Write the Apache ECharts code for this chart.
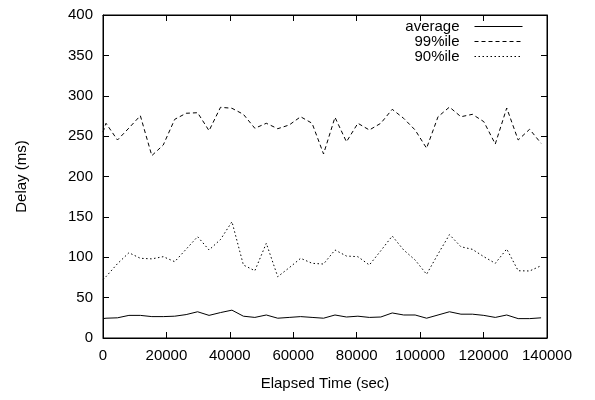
<!DOCTYPE html>
<html>
<head>
<meta charset="utf-8">
<script src="https://cdn.jsdelivr.net/npm/echarts@6/dist/echarts.min.js"></script>
<style>html,body{margin:0;padding:0;background:#fff;}#c{width:595px;height:400px;}</style>
</head>
<body>
<div id="c"></div>
<script>
// Elapsed time (sec) of each sample
var times = [0, 950, 4560, 8170, 11780, 15390, 19000, 22610, 26220, 29830, 33440, 37050, 40660, 44270, 47880, 51490, 55100, 58710, 62320, 65930, 69540, 73150, 76760, 80370, 83980, 87590, 91200, 94810, 98420, 102030, 105640, 109250, 112860, 116470, 120080, 123690, 127300, 130910, 134520, 138130];
var average = [24, 24.5, 25, 28, 28, 26.5, 26.5, 27, 29, 32.5, 28, 31.5, 34.5, 27, 25.5, 28.5, 24.5, 25.5, 26.5, 25.5, 24.5, 28.5, 26, 27, 25.5, 26, 31, 28.5, 28.5, 24.5, 28.5, 32.5, 29.5, 29.5, 28, 25.5, 28.5, 24, 24, 25];
var p99 = [255, 265.9, 245.2, 260, 275.3, 225.8, 239, 270.8, 278.3, 279, 256.7, 285.7, 284.5, 277, 259.7, 265.9, 259.2, 263.8, 274, 265.9, 227.9, 273.3, 243, 265.9, 257.6, 265.9, 283.2, 272, 257.6, 235, 274, 286, 274, 277, 267.9, 240.2, 284.8, 245.2, 258.5, 241.1];
var p90 = [72, 76, 92, 105.6, 98.7, 98, 100.7, 94.5, 110, 125.5, 109, 122, 144, 90.4, 83.3, 117.3, 75.9, 87, 98.7, 92.5, 91.6, 109, 101.5, 100.7, 90.4, 108, 126.3, 109, 96.6, 78.9, 104, 128, 113, 109.8, 100.7, 92.5, 110.2, 83.3, 83, 89.5];
var seriesNames = ['average', '99%ile', '90%ile'];
var xTicks = {min: 0, max: 140000, interval: 20000};
var yTicks = {min: 0, max: 400, interval: 50};

function pairs(vals) { return times.map(function (t, i) { return [t, vals[i]]; }); }

var FONT = 'Liberation Sans';
var chart = echarts.init(document.getElementById('c'), null, {renderer: 'canvas'});
var axisCommon = {
  axisLine: {show: true, onZero: false, lineStyle: {color: '#000', width: 1}},
  axisTick: {show: true, inside: true, length: 6, lineStyle: {color: '#000'}},
  splitLine: {show: false}
};
var dashes = ['solid', [4, 3], [1.5, 2.5]];
chart.setOption({
  animation: false,
  backgroundColor: '#fff',
  textStyle: {fontFamily: FONT},
  grid: {left: 103, right: 48, top: 15, bottom: 62, show: true, borderColor: '#000', borderWidth: 1},
  legend: {
    right: 67, top: 14, orient: 'vertical', align: 'right',
    itemWidth: 48, itemHeight: 10, itemGap: 0,
    itemStyle: {opacity: 0},
    lineStyle: {width: 1, color: '#000'},
    textStyle: {fontFamily: FONT, fontSize: 15, color: '#000', padding: [0, 10, 0, 0]},
    data: seriesNames.map(function (n, i) { return {name: n, lineStyle: {type: dashes[i], width: 1}}; })
  },
  xAxis: [
    Object.assign({type: 'value', min: xTicks.min, max: xTicks.max, interval: xTicks.interval,
      name: 'Elapsed Time (sec)', nameLocation: 'middle', nameGap: 38,
      nameTextStyle: {fontFamily: FONT, fontSize: 15, color: '#000'},
      axisLabel: {fontFamily: FONT, fontSize: 15, color: '#000', margin: 10, formatter: function (v) { return String(v); }}}, axisCommon),
    Object.assign({type: 'value', position: 'top', min: xTicks.min, max: xTicks.max, interval: xTicks.interval,
      axisLabel: {show: false}}, axisCommon)
  ],
  yAxis: [
    Object.assign({type: 'value', min: yTicks.min, max: yTicks.max, interval: yTicks.interval,
      name: 'Delay (ms)', nameLocation: 'middle', nameGap: 74,
      nameTextStyle: {fontFamily: FONT, fontSize: 15, color: '#000'},
      axisLabel: {fontFamily: FONT, fontSize: 15, color: '#000', margin: 10}}, axisCommon),
    Object.assign({type: 'value', position: 'right', min: yTicks.min, max: yTicks.max, interval: yTicks.interval,
      axisLabel: {show: false}}, axisCommon)
  ],
  series: [
    {name: seriesNames[0], type: 'line', data: pairs(average), symbol: 'none',
      lineStyle: {color: '#000', width: 1, type: dashes[0]}, itemStyle: {color: '#000'}},
    {name: seriesNames[1], type: 'line', data: pairs(p99), symbol: 'none',
      lineStyle: {color: '#000', width: 1, type: dashes[1]}, itemStyle: {color: '#000'}},
    {name: seriesNames[2], type: 'line', data: pairs(p90), symbol: 'none',
      lineStyle: {color: '#000', width: 1, type: dashes[2]}, itemStyle: {color: '#000'}}
  ]
});
</script>
</body>
</html>
